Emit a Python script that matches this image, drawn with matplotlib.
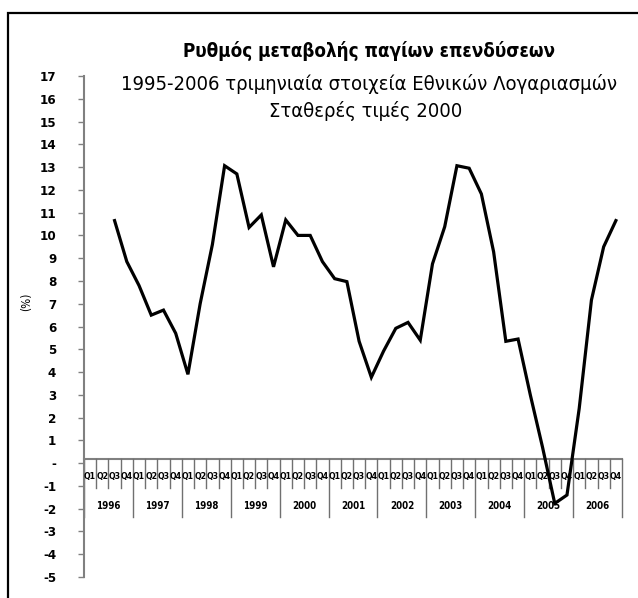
import numpy as np
import matplotlib
matplotlib.use("Agg")
import matplotlib.pyplot as plt
from matplotlib import font_manager
from matplotlib.font_manager import FontProperties
from matplotlib.patches import Rectangle

# data (quarterly growth of fixed investment, %)
years = ['1996', '1997', '1998', '1999', '2000', '2001',
         '2002', '2003', '2004', '2005', '2006']
quarters = ['Q1', 'Q2', 'Q3', 'Q4']
growth = [np.nan, np.nan, 10.65, 8.85,
          7.80, 6.50, 6.72, 5.70,
          3.90, 7.00, 9.60, 13.06,
          12.70, 10.35, 10.90, 8.62,
          10.68, 10.00, 10.00, 8.85,
          8.10, 7.97, 5.35, 3.77,
          4.92, 5.92, 6.18, 5.40,
          8.75, 10.38, 13.06, 12.95,
          11.82, 9.28, 5.35, 5.45,
          3.00, 0.70, -1.77, -1.40,
          2.40, 7.16, 9.50, 10.65]
yticks = list(range(-5, 18))


def find_font(files):
    # look for a narrow face by file name, else None
    for f in font_manager.fontManager.ttflist:
        if f.fname.split('/')[-1] in files:
            return f.fname
    return None


reg_file = find_font(['LiberationSansNarrow-Regular.ttf', 'DejaVuSansCondensed.ttf'])
bold_file = find_font(['LiberationSansNarrow-Bold.ttf', 'DejaVuSansCondensed-Bold.ttf'])
condensed = reg_file is not None and bold_file is not None


def fp(size, bold=False):
    if condensed:
        return FontProperties(fname=bold_file if bold else reg_file, size=size)
    return FontProperties(family='DejaVu Sans', size=size * 0.88,
                          weight='bold' if bold else 'normal')


fig = plt.figure(figsize=(6.38, 5.98), dpi=100)
ax = fig.add_axes([84/638, 1-577/598, (622-84)/638, (577-76)/598])

n = len(growth)
x = np.arange(n) + 0.5
ax.plot(x, growth, color='black', lw=2.3, solid_joinstyle='miter', zorder=5)

ax.set_xlim(0, n)
ax.set_ylim(-5, 17)
ax.set_yticks(yticks)
ax.set_yticklabels(['-' if v == 0 else str(v) for v in yticks])
for lab in ax.get_yticklabels():
    lab.set_fontproperties(fp(9.5, bold=True))
ax.tick_params(axis='y', direction='out', length=4, width=1, color='#808080', pad=16)
ax.set_xticks([])
for s in ['top', 'right', 'bottom']:
    ax.spines[s].set_visible(False)
ax.spines['left'].set_color('#808080')
ax.spines['left'].set_linewidth(1.5)
ax.set_ylabel('(%)', fontproperties=fp(8.5))
ax.yaxis.set_label_coords(-0.095, 0.55)

# category axis drawn at zero
cat_y = 0.18
ax.plot([0, n], [cat_y, cat_y], color='#808080', lw=1.5, clip_on=False)
for i in range(n + 1):
    bottom = -2.36 if i % 4 == 0 else -1.09
    ax.plot([i, i], [cat_y, bottom], color='#707070', lw=1.0, clip_on=False)
for i in range(n):
    ax.text(i + 0.5, -0.57, quarters[i % 4], ha='center', va='center',
            fontproperties=fp(6.3, bold=True))
for k, yr in enumerate(years):
    ax.text(4*k + 2, -1.9, yr, ha='center', va='center',
            fontproperties=fp(7, bold=True))

fig.text(369/638, 1-51/598, 'Ρυθμός μεταβολής παγίων επενδύσεων',
         ha='center', va='center', fontproperties=fp(13.5, bold=True))
fig.text(369/638, 1-84/598, '1995-2006 τριμηνιαία στοιχεία Εθνικών Λογαριασμών',
         ha='center', va='center', fontproperties=fp(14.5))
fig.text(366/638, 1-111/598, 'Σταθερές τιμές 2000',
         ha='center', va='center', fontproperties=fp(14.5))

# outer frame
fig.patches.append(Rectangle((8/638, -0.1), 1.0, 1-13/598+0.1,
                             transform=fig.transFigure, fill=False,
                             edgecolor='black', lw=1.6))

fig.savefig('out.png', dpi=100)
